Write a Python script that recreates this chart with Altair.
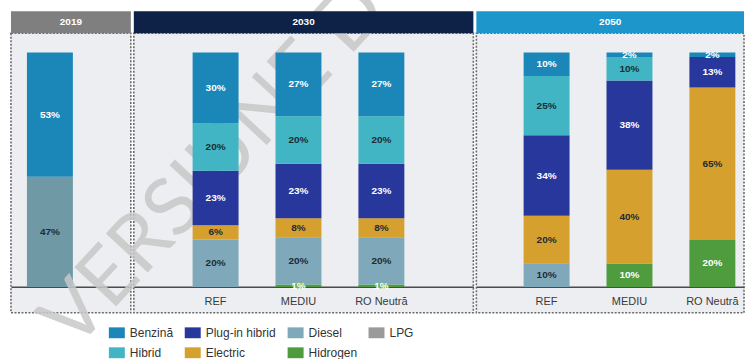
import altair as alt
import pandas as pd

# ---------------- data ----------------
bar_panel = ["2019", "2030", "2030", "2030", "2050", "2050", "2050"]
bar_scenario = ["2019", "REF", "MEDIU", "RO Neutră", "REF", "MEDIU", "RO Neutră"]

# stacking order, bottom -> top
stack_order = ["Hidrogen", "Diesel", "Electric", "Plug-in hibrid", "Hibrid", "Benzină", "LPG"]
benzina = [53, 30, 27, 27, 10, 2, 2]
hibrid = [0, 20, 20, 20, 25, 10, 0]
plugin = [0, 23, 23, 23, 34, 38, 13]
electric = [0, 6, 8, 8, 20, 40, 65]
diesel = [47, 20, 20, 20, 10, 0, 0]
hidrogen = [0, 0, 1, 1, 0, 10, 20]
lpg = [0, 0, 0, 0, 0, 0, 0]

# legend is filled column by column (2 rows)
legend_order = ["Benzină", "Hibrid", "Plug-in hibrid", "Electric", "Diesel", "Hidrogen", "LPG"]
legend_colors = ["#1b87b9", "#41b5c3", "#28379b", "#d5a02d", "#7fa8ba", "#4f9c3f", "#9a9a9a"]
diesel_2019_color = "#6e99a5"

panels = ["2019", "2030", "2050"]
panel_scenarios = [["2019"], ["REF", "MEDIU", "RO Neutră"], ["REF", "MEDIU", "RO Neutră"]]
header_colors = ["#7f7f7f", "#0e2146", "#1d96cc"]
watermark = "VERSIUNE D"

series = {
    "Hidrogen": hidrogen, "Diesel": diesel, "Electric": electric,
    "Plug-in hibrid": plugin, "Hibrid": hibrid, "Benzină": benzina, "LPG": lpg,
}
rows = []
for i, (p, s) in enumerate(zip(bar_panel, bar_scenario)):
    for k, cat in enumerate(stack_order):
        v = series[cat][i]
        if v > 0:
            rows.append({"panel": p, "scenario": s, "category": cat, "value": v,
                         "order": k, "label": f"{v}%"})
df = pd.DataFrame(rows)

# ---------------- layout params ----------------
widths = [120, 340, 268]
pad_outer = [0.446, 0.771, 0.3374]
aligns = [0.216, 0.46, 0.845]
H = 280
FONT = "Liberation Sans"

legend = alt.Legend(title=None, orient="none", legendX=98, legendY=292, columns=4,
                    direction="vertical",
                    symbolType="M-1,-0.68H1V0.68H-1Z", symbolSize=256, symbolStrokeWidth=0,
                    labelFontSize=12, labelColor="#333333", labelFont=FONT, labelOffset=5,
                    columnPadding=11, rowPadding=6)

white_cats = ["Benzină", "Plug-in hibrid", "Hidrogen"]


def panel_chart(idx):
    p = panels[idx]
    w = widths[idx]
    xscale = alt.Scale(domain=panel_scenarios[idx], paddingInner=0.446,
                       paddingOuter=pad_outer[idx], align=aligns[idx])
    xaxis = alt.Axis(title=None, offset=-26, domainColor="#4a4a4a", domainWidth=1.5,
                     ticks=False, grid=False, labelAngle=0, labelFontSize=11,
                     labelColor="#3a3a3a", labelFont=FONT, labelPadding=9,
                     labels=(idx != 0))
    yscale = alt.Scale(domain=[-0.1106, 1.082], nice=False, zero=False)

    base = (alt.Chart(df)
            .transform_filter(alt.datum.panel == p)
            .transform_stack(stack="value", groupby=["panel", "scenario"], as_=["y0", "y1"],
                             offset="normalize", sort=[alt.SortField("order", order="ascending")])
            .transform_calculate(mid="(datum.y0 + datum.y1) / 2"))

    color_enc = alt.Color("category:N",
                          scale=alt.Scale(domain=legend_order, range=legend_colors),
                          legend=legend)
    if idx == 0:
        color_enc = alt.condition(alt.datum.category == "Diesel",
                                  alt.value(diesel_2019_color), color_enc)

    bars = base.mark_bar(size=46).encode(
        x=alt.X("scenario:N", scale=xscale, axis=xaxis),
        y=alt.Y("y0:Q", scale=yscale, axis=None),
        y2="y1:Q",
        color=color_enc,
    )
    bubble = base.transform_filter(
        (alt.datum.category == "Hidrogen") & (alt.datum.value < 3)
    ).mark_point(shape="M-1,0A1,0.42,0,1,1,1,0A1,0.42,0,1,1,-1,0Z", size=150, filled=True,
                 color="#5fb04a", opacity=1, stroke="#8fd07a", strokeWidth=0.8).encode(
        x=alt.X("scenario:N", scale=xscale, axis=xaxis),
        y=alt.Y("mid:Q", scale=yscale, axis=None),
    )
    labels = base.mark_text(fontSize=10, fontWeight="bold", font=FONT).encode(
        x=alt.X("scenario:N", scale=xscale, axis=xaxis),
        y=alt.Y("mid:Q", scale=yscale, axis=None),
        text="label:N",
        color=alt.condition(alt.FieldOneOfPredicate(field="category", oneOf=white_cats),
                            alt.value("#ffffff"), alt.value("#1d2b35")),
    )
    hdf = pd.DataFrame({"h": [p]})
    head_rect = alt.Chart(hdf).mark_rect(color=header_colors[idx]).encode(
        x=alt.value(0), x2=alt.value(w), y=alt.value(-22), y2=alt.value(0))
    head_text = alt.Chart(hdf).mark_text(color="white", fontSize=10, fontWeight="bold",
                                         font=FONT).encode(
        x=alt.value(w / 2), y=alt.value(-11), text="h:N")
    layers = []
    if idx == 1:
        wm = alt.Chart(pd.DataFrame({"t": [watermark]})).mark_text(
            angle=313, align="left", baseline="middle", fontSize=80, font="Lato",
            fontWeight="normal", color="#c8c8c8", opacity=0.85).encode(
            x=alt.value(-77), y=alt.value(302), text="t:N")
        layers.append(wm)
    layers += [bars, bubble, labels, head_rect, head_text]
    return alt.layer(*layers).properties(width=w, height=H)


chart = (alt.hconcat(*[panel_chart(i) for i in range(3)], spacing=3, bounds="flush")
         .resolve_scale(color="shared")
         .properties(padding={"left": 10, "top": -33, "right": 0, "bottom": 0},
                     background="white")
         .configure_view(fill="#eceef1", stroke="#6b6b6b", strokeDash=[2, 1.5],
                         strokeWidth=1.6))

chart.save("out.html", embed_options={"renderer": "svg", "actions": False})
